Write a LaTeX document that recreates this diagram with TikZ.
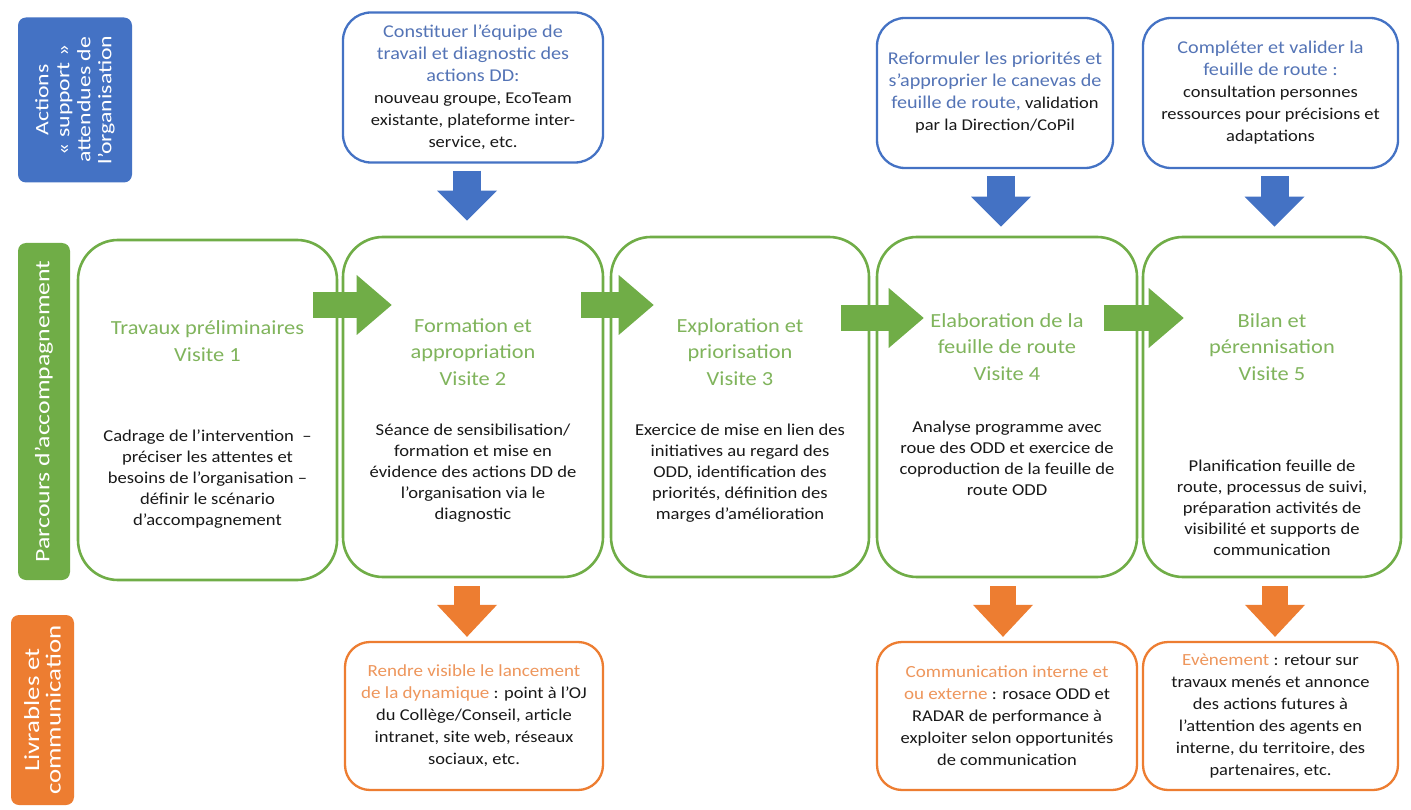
\documentclass[tikz,border=0pt]{standalone}
\usepackage{fontspec}
\setmainfont{Carlito}[FakeStretch=1.12]
\newfontfamily\labfont{Carlito}[FakeStretch=1.25]
\usetikzlibrary{arrows.meta,calc}
\definecolor{bl}{RGB}{68,114,196}
\definecolor{blt}{RGB}{84,116,182}
\definecolor{gr}{RGB}{112,173,71}
\definecolor{grt}{RGB}{128,180,92}
\definecolor{org}{RGB}{237,125,49}
\definecolor{orgt}{RGB}{238,150,92}
\definecolor{txt}{RGB}{25,25,25}
\newcommand\btit[1]{{\fontsize{18}{22}\selectfont\color{blt}#1}}
\newcommand\otit[1]{{\fontsize{17}{22}\selectfont\color{orgt}#1}}
\tikzset{
  lab/.style={rounded corners=8pt, text=white, rotate=90, align=center, inner sep=0pt},
  gbox/.style={draw=gr, line width=2.6pt, rounded corners=40pt},
  tbox/.style={draw=bl, line width=2.3pt, rounded corners=28pt, align=center, text=txt,
    font=\fontsize{16.5}{22}\selectfont},
  obox/.style={draw=org, line width=2.3pt, rounded corners=25pt, align=center, text=txt,
    font=\fontsize{16.5}{22}\selectfont},
  gtitle/.style={text=grt, align=center, font=\fontsize{20}{26.5}\selectfont},
  gbody/.style={text=txt, align=center, font=\fontsize{16.6}{21}\selectfont},
  barrow/.style={draw=bl, line width=28pt, -{Triangle[width=60pt,length=30pt,line width=0pt]}},
  oarrow/.style={draw=org, line width=26pt, -{Triangle[width=60pt,length=32pt,line width=0pt]}},
  garrow/.style={draw=gr, line width=26pt, -{Triangle[width=60pt,length=35pt,line width=0pt]}},
}
\begin{document}
\begin{tikzpicture}[x=1pt,y=-1pt]
\useasboundingbox[fill=white] (0,0) rectangle (1411,810);

% left labels
\node[lab, fill=bl, minimum width=165pt, minimum height=114pt,
  font=\labfont\fontsize{19}{21}\selectfont] (lb) at (75,100)
  {Actions\\«~support~»\\attendues de\\l’organisation};
\node[lab, fill=gr, minimum width=337pt, minimum height=52pt,
  font=\labfont\fontsize{20.6}{24}\selectfont] (lg) at (44,411.5) {Parcours d’accompagnement};
\node[lab, fill=org, minimum width=190pt, minimum height=63pt,
  font=\labfont\fontsize{21.5}{21.5}\selectfont] (lo) at (42.5,710) {Livrables et\\communication};

% green boxes
\node[gbox, minimum width=259pt, minimum height=340pt] (g1) at (207.5,410) {};
\node[gbox, minimum width=260pt, minimum height=340pt] (g2) at (473,407) {};
\node[gbox, minimum width=258pt, minimum height=340pt] (g3) at (740,407) {};
\node[gbox, minimum width=260pt, minimum height=340pt] (g4) at (1007,407) {};
\node[gbox, minimum width=258pt, minimum height=340pt] (g5) at (1272,407) {};

\node[gtitle] (g1t) at (207.5,341) {Travaux préliminaires\\Visite 1};
\node[gbody] (g1b) at (207.5,479) {Cadrage de l’intervention~ –\\préciser les attentes et\\besoins de l’organisation –\\définir le scénario\\d’accompagnement};
\node[gtitle] (g2t) at (473,352) {Formation et\\appropriation\\Visite 2};
\node[gbody] (g2b) at (473,473) {Séance de sensibilisation/\\formation et mise en\\évidence des actions DD de\\l’organisation via le\\diagnostic};
\node[gtitle] (g3t) at (740,352) {Exploration et\\priorisation\\Visite 3};
\node[gbody] (g3b) at (740,473) {Exercice de mise en lien des\\initiatives au regard des\\ODD, identification des\\priorités, définition des\\marges d’amélioration};
\node[gtitle] (g4t) at (1007,347) {Elaboration de la\\feuille de route\\Visite 4};
\node[gbody] (g4b) at (1007,458) {Analyse programme avec\\roue des ODD et exercice de\\coproduction de la feuille de\\route ODD};
\node[gtitle] (g5t) at (1272,347) {Bilan et\\pérennisation\\Visite 5};
\node[gbody] (g5b) at (1272,508) {Planification feuille de\\route, processus de suivi,\\préparation activités de\\visibilité et supports de\\communication};

% top boxes
\node[tbox, minimum width=260pt, minimum height=150pt] (t1) at (473,87.5)
  {\btit{Constituer l’équipe de}\\\btit{travail et diagnostic des}\\\btit{actions DD:}\\nouveau groupe, EcoTeam\\existante, plateforme inter-\\service, etc.};
\node[tbox, minimum width=236pt, minimum height=150pt] (t2) at (995,93)
  {\btit{Reformuler les priorités et}\\\btit{s’approprier le canevas de}\\\btit{feuille de route,} validation\\par la Direction/CoPil};
\node[tbox, minimum width=255pt, minimum height=150pt] (t3) at (1270.5,93)
  {\btit{Compléter et valider la}\\\btit{feuille de route :}\\consultation personnes\\ressources pour précisions et\\adaptations};

% bottom boxes
\node[obox, minimum width=258pt, minimum height=148pt] (o1) at (474,716)
  {\otit{Rendre visible le lancement}\\\otit{de la dynamique} : point à l’OJ\\du Collège/Conseil, article\\intranet, site web, réseaux\\sociaux, etc.};
\node[obox, minimum width=260pt, minimum height=148pt] (o2) at (1007,716)
  {\otit{Communication interne et}\\\otit{ou externe} : rosace ODD et\\RADAR de performance à\\exploiter selon opportunités\\de communication};
\node[obox, minimum width=255pt, minimum height=148pt] (o3) at (1270.5,716)
  {\otit{Evènement} : retour sur\\travaux menés et annonce\\des actions futures à\\l’attention des agents en\\interne, du territoire, des\\partenaires, etc.};

% blue arrows
\draw[barrow, shorten <=7pt, shorten >=15pt] ([xshift=-6pt]t1.south) -- ([xshift=-6pt]t1.south |- g2.north);
\draw[barrow, shorten <=7pt, shorten >=9pt] ([xshift=6pt]t2.south) -- ([xshift=6pt]t2.south |- g4.north);
\draw[barrow, shorten <=7pt, shorten >=9pt] ([xshift=4pt]t3.south) -- ([xshift=4pt]t3.south |- g5.north);

% green arrows
\draw[garrow] ($(g1.east)+(-25,-105)$) -- ($(g2.west)+(50,-102)$);
\draw[garrow] ($(g2.east)+(-23,-102)$) -- ($(g3.west)+(44,-102)$);
\draw[garrow] ($(g3.east)+(-29,-89)$) -- ($(g4.west)+(48,-89)$);
\draw[garrow] ($(g4.east)+(-34,-89)$) -- ($(g5.west)+(42,-89)$);

% orange arrows
\draw[oarrow, shorten <=8pt, shorten >=4pt] ([xshift=-6pt]g2.south) -- ([xshift=-6pt]g2.south |- o1.north);
\draw[oarrow, shorten <=8pt, shorten >=4pt] ([xshift=-4pt]g4.south) -- ([xshift=-4pt]g4.south |- o2.north);
\draw[oarrow, shorten <=8pt, shorten >=4pt] ([xshift=3pt]g5.south) -- ([xshift=3pt]g5.south |- o3.north);
\end{tikzpicture}
\end{document}
